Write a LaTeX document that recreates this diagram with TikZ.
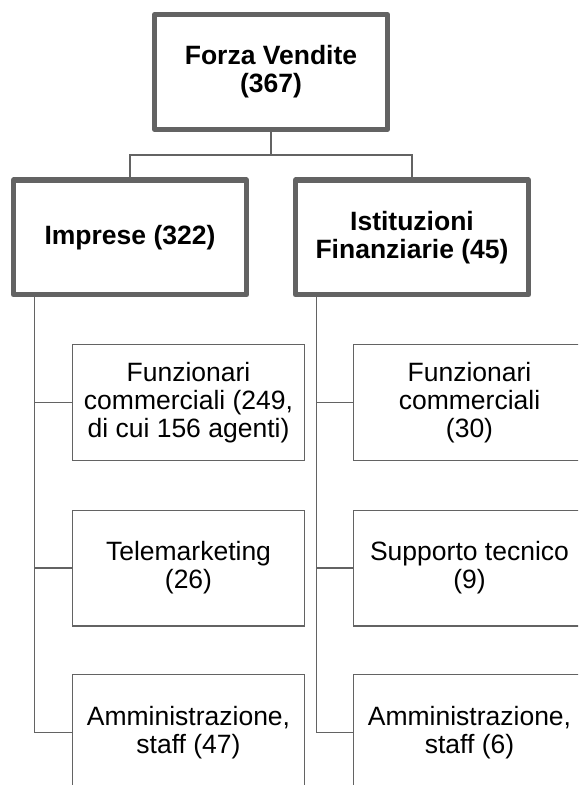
\documentclass[tikz,border=0pt]{standalone}
\usepackage{fontspec}
\setmainfont{Liberation Sans}
\definecolor{bordo}{RGB}{99,99,99}

\begin{document}
\begin{tikzpicture}[
x=0.5pt, y=-0.5pt,
every node/.style={
align=center,
inner sep=0pt,
font=\fontsize{13.25}{14}\selectfont
},
gruppo/.style={
draw=bordo,
line width=2.65pt,
line join=round,
minimum width=116.35pt,
minimum height=57.35pt,
font=\fontsize{13.25}{14}\selectfont\bfseries
},
reparto/.style={
draw=bordo,
line width=0.7pt,
minimum width=115.8pt,
minimum height=57.8pt
},
linea/.style={
draw=bordo,
line width=0.7pt
}
]

\useasboundingbox (0,0) rectangle (578,785);
\clip (0,0) rectangle (578,785);

\node[gruppo] (FV) at (271,72)
{Forza Vendite\\(367)};

\node[gruppo] (IMP) at (130,237.5)
{Imprese (322)};

\node[gruppo] (IF) at (412,237.5)
{Istituzioni\\Finanziarie (45)};

\node[reparto] (IMP1) at (188.5,402.5)
{Funzionari\\commerciali (249,\\di cui 156 agenti)};

\node[reparto] (IMP2) at (188.5,568)
{Telemarketing\\(26)};

\node[reparto] (IMP3) at (188.5,732.5)
{Amministrazione,\\staff (47)};

\node[reparto] (IF1) at (469.5,402.5)
{Funzionari\\commerciali\\(30)};

\node[reparto] (IF2) at (469.5,568)
{Supporto tecnico\\(9)};

\node[reparto] (IF3) at (469.5,732.5)
{Amministrazione,\\staff (6)};

\coordinate (FVsplit) at (271,155);

\draw[linea] (FV) -- (FVsplit);
\draw[linea] (FVsplit) -| (IMP);
\draw[linea] (FVsplit) -| (IF);

\draw[linea] ([xshift=11.7pt]IMP.south west) |- (IMP1.west);
\draw[linea] ([xshift=11.7pt]IMP.south west) |- (IMP2.west);
\draw[linea] ([xshift=11.7pt]IMP.south west) |- (IMP3.west);

\draw[linea] ([xshift=11.7pt]IF.south west) |- (IF1.west);
\draw[linea] ([xshift=11.7pt]IF.south west) |- (IF2.west);
\draw[linea] ([xshift=11.7pt]IF.south west) |- (IF3.west);

\end{tikzpicture}
\end{document}
